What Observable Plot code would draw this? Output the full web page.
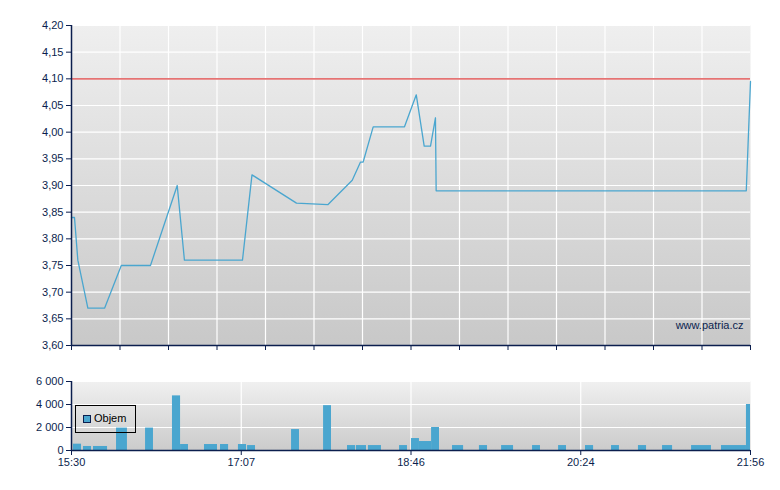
<!DOCTYPE html>
<html>
<head>
<meta charset="utf-8">
<script src="https://cdn.jsdelivr.net/npm/d3@7"></script>
<script src="https://cdn.jsdelivr.net/npm/@observablehq/plot@0.6"></script>
<style>
  html, body { margin: 0; padding: 0; background: #fff; }
  #wrap { position: relative; width: 780px; height: 490px; font-family: "Liberation Sans", Arial, sans-serif; }
  #wrap svg { display: block; }
  #legend { position: absolute; left: 75px; top: 405px; width: 59px; height: 26px; border: 1px solid #000;
            font: 11px "Liberation Sans", Arial, sans-serif; color: #000; }
  #legend .sw { position: absolute; left: 7px; top: 9px; width: 6px; height: 6px; background: #4aa6cf; border: 1px solid #0b1e4e; }
  #legend .tx { position: absolute; left: 18px; top: 6px; }
</style>
</head>
<body>
<div id="wrap"><div id="topChart"></div><div id="botChart"></div>
  <div id="legend"><div class="sw"></div><div class="tx">Objem</div></div>
</div>
<script>
// ---- data (minutes since 15:30 on the chart's time axis) ----
const priceTime  = [0, 1.7, 3.6, 9.3, 18.8, 28.3, 44.9, 60.1, 64.2, 97.2, 102.6, 127.9, 145.7, 159.6, 164.3, 165.8, 171.5, 189.3, 196.0, 200.5, 204.1, 206.9, 207.3, 383.6, 386];
const priceValue = [3.84, 3.84, 3.76, 3.67, 3.67, 3.75, 3.75, 3.90, 3.76, 3.76, 3.92, 3.867, 3.864, 3.91, 3.944, 3.944, 4.01, 4.01, 4.07, 3.974, 3.974, 4.027, 3.89, 3.89, 4.095];
const refPrice = [4.10];

const volStart = [1.1, 6.8, 12.5, 25.6, 42.1, 57.4, 62.0, 75.6, 84.7, 94.9, 100.1, 125.1, 143.3, 156.9, 162.0, 168.8, 186.5, 193.3, 197.8, 204.7, 216.6, 231.9, 244.5, 262.1, 276.9, 292.2, 307.0, 322.3, 336.0, 352.5, 369.5, 383.7];
const volEnd   = [5.7, 11.4, 20.5, 31.8, 46.6, 62.0, 66.5, 83.0, 89.3, 99.5, 104.6, 129.6, 147.8, 161.5, 167.7, 176.2, 191.0, 197.8, 204.7, 209.2, 222.9, 236.5, 251.3, 266.6, 281.4, 296.8, 311.5, 326.9, 341.7, 363.8, 383.7, 386];
const volValue = [550, 350, 350, 1950, 1950, 4750, 520, 520, 520, 520, 430, 1820, 3900, 430, 430, 430, 430, 1040, 780, 2000, 430, 430, 430, 430, 430, 430, 430, 430, 430, 430, 430, 4000];

const priceTicks = [3.60, 3.65, 3.70, 3.75, 3.80, 3.85, 3.90, 3.95, 4.00, 4.05, 4.10, 4.15, 4.20];
const volTicks = [0, 2000, 4000, 6000];
const timeTickPos = [0, 96.5, 193, 289.5, 386];
const timeTickLabels = ["15:30", "17:07", "18:46", "20:24", "21:56"];
const topTimeDivisions = 14;

// ---- derived tables ----
const price = priceTime.map((t, i) => ({t, p: priceValue[i]}));
const vol = volStart.map((s, i) => ({s, e: volEnd[i], v: volValue[i]}));
const xDomain = [timeTickPos[0], timeTickPos[timeTickPos.length - 1]];
const topTicks = d3.range(topTimeDivisions + 1).map(i => xDomain[0] + (xDomain[1] - xDomain[0]) * i / topTimeDivisions);

const navy = "#0b1e4e";
const blue = "#4aa6cf";
const fontStyle = {fontFamily: "'Liberation Sans', Arial, sans-serif", fontSize: "11px", color: navy, background: "transparent", overflow: "visible"};
const loc = d3.formatLocale({decimal: ",", thousands: " ", grouping: [3], currency: ["", ""]});
const fmtVol = loc.format(",d");

function addGradient(svg, id, c0, c1) {
  const g = d3.select(svg).insert("defs", ":first-child")
    .append("linearGradient").attr("id", id).attr("x1", 0).attr("y1", 0).attr("x2", 0).attr("y2", 1);
  g.append("stop").attr("offset", "0%").attr("stop-color", c0);
  g.append("stop").attr("offset", "100%").attr("stop-color", c1);
}

const priceChart = Plot.plot({
  width: 780, height: 355,
  marginTop: 25, marginBottom: 10, marginLeft: 71, marginRight: 30,
  style: fontStyle,
  x: {domain: xDomain},
  y: {domain: [priceTicks[0], priceTicks[priceTicks.length - 1]]},
  marks: [
    Plot.frame({fill: "url(#gTop)", stroke: null}),
    Plot.gridX(topTicks.slice(1, -1), {stroke: "#fff", strokeOpacity: 1, strokeWidth: 1.2}),
    Plot.gridY(priceTicks.slice(1), {stroke: "#fff", strokeOpacity: 1, strokeWidth: 1.2}),
    Plot.ruleY(refPrice, {stroke: "#e26464", strokeWidth: 1.6, strokeOpacity: 0.9}),
    Plot.line(price, {x: "t", y: "p", stroke: blue, strokeWidth: 1.3}),
    Plot.text(["www.patria.cz"], {frameAnchor: "bottom-right", dx: -7, dy: -17, lineAnchor: "bottom", fill: navy, fontSize: 11}),
    Plot.axisY(priceTicks, {tickSize: 5, tickPadding: 3, tickFormat: d => d.toFixed(2).replace(".", ","), label: null, stroke: navy, fill: navy}),
    Plot.axisX(topTicks, {tickSize: 5, tickFormat: () => "", label: null, stroke: navy}),
    Plot.ruleX([xDomain[0]], {stroke: navy, strokeWidth: 1.5}),
    Plot.ruleY([priceTicks[0]], {stroke: navy, strokeWidth: 1.5})
  ]
});
addGradient(priceChart, "gTop", "#efefef", "#c8c8c8");
document.getElementById("topChart").appendChild(priceChart);

const volChart = Plot.plot({
  width: 780, height: 135,
  marginTop: 26, marginBottom: 40, marginLeft: 71, marginRight: 30,
  style: fontStyle,
  x: {domain: xDomain},
  y: {domain: [volTicks[0], volTicks[volTicks.length - 1]]},
  marks: [
    Plot.frame({fill: "url(#gBot)", stroke: null}),
    Plot.gridX(timeTickPos.slice(1, -1), {stroke: "#fff", strokeOpacity: 1, strokeWidth: 1.2}),
    Plot.gridY(volTicks.slice(1), {stroke: "#fff", strokeOpacity: 1, strokeWidth: 1.2}),
    Plot.rectY(vol, {x1: "s", x2: "e", y: "v", fill: blue}),
    Plot.axisY(volTicks, {tickSize: 5, tickPadding: 3, tickFormat: fmtVol, label: null, stroke: navy, fill: navy}),
    Plot.axisX(timeTickPos, {tickSize: 5, tickPadding: 3, tickFormat: (d, i) => timeTickLabels[i], label: null, stroke: navy, fill: navy}),
    Plot.ruleX([xDomain[0]], {stroke: navy, strokeWidth: 1.5}),
    Plot.ruleY([volTicks[0]], {stroke: navy, strokeWidth: 1.5})
  ]
});
addGradient(volChart, "gBot", "#f0f0f0", "#cbcbcb");
document.getElementById("botChart").appendChild(volChart);
</script>
</body>
</html>
